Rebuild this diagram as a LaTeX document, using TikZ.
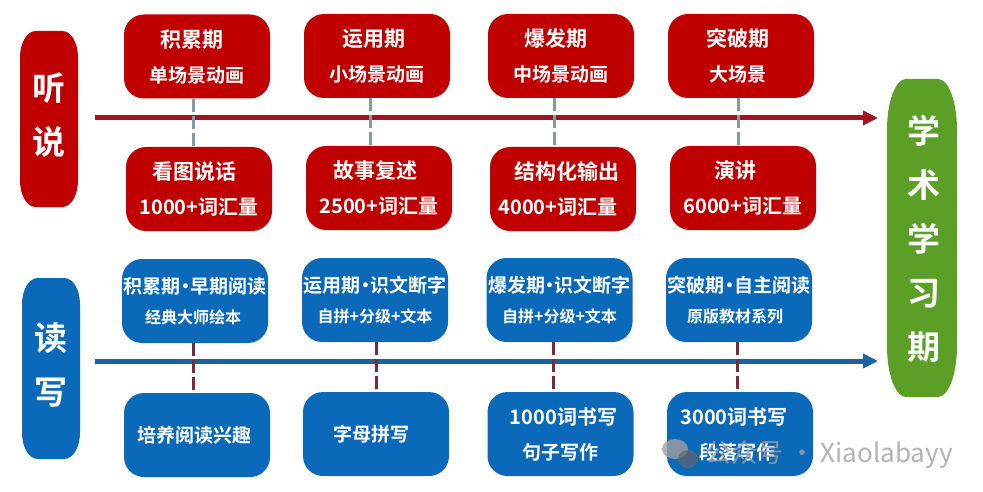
\documentclass[tikz,border=0pt]{standalone}
\usepackage{fontspec}
\usepackage{xcolor}
\usetikzlibrary{arrows.meta,positioning,calc}
\setmainfont{Noto Sans CJK SC}[BoldFont={Noto Sans CJK SC Bold}]
\definecolor{listenred}{HTML}{C00000}
\definecolor{shaftred}{HTML}{A01522}
\definecolor{dashgray}{HTML}{7F9CA3}
\definecolor{readblue}{HTML}{0B69B9}
\definecolor{shaftblue}{HTML}{1C62A3}
\definecolor{dashmaroon}{HTML}{772B42}
\definecolor{academic}{HTML}{5C9F26}
\definecolor{markgray}{HTML}{A0A0A0}
\newcommand{\subline}[1]{{\fontsize{16}{16}\selectfont #1}}
\newcommand{\midline}[1]{{\fontsize{19}{19}\selectfont #1}}
\newcommand{\wideline}[1]{{\fontsize{20}{20}\selectfont #1}}
\newcommand{\tightdot}{\kern-.26em·\kern-.26em}

\begin{document}
\begin{tikzpicture}[
  x=1pt, y=-1pt,
  font=\bfseries,
  redbox/.style={rounded corners=20pt, fill=listenred, text=white, align=center, inner sep=0pt, minimum width=146pt, minimum height=84pt, font=\bfseries\fontsize{21}{35}\selectfont},
  bluebox/.style={redbox, fill=readblue},
  readbox/.style={bluebox, font=\bfseries\fontsize{19}{30}\selectfont},
  sidetext/.style={text=white, align=center, inner sep=0pt, font=\bfseries\fontsize{33}{54}\selectfont},
  redarrow/.style={-{Triangle[length=15pt,width=14pt,fill=listenred]}, draw=shaftred, line width=5pt},
  bluearrow/.style={-{Triangle[length=15pt,width=14pt,fill=readblue]}, draw=shaftblue, line width=5pt},
  graydash/.style={draw=dashgray, line width=3pt, dash pattern=on 13pt off 4pt},
  maroondash/.style={draw=dashmaroon, line width=3pt, dash pattern=on 13pt off 4pt}
]
\useasboundingbox (0,0) rectangle (983,492);
% side bars
\fill[listenred] (20,58) .. controls (20,42) and (27,31) .. (36,31) -- (62,31) .. controls (71,31) and (78,42) .. (78,58) -- (78,180) .. controls (78,196) and (71,207) .. (62,207) -- (36,207) .. controls (27,207) and (20,196) .. (20,180) -- cycle;
\fill[readblue] (22,305) .. controls (22,289) and (29,278) .. (38,278) -- (64,278) .. controls (73,278) and (80,289) .. (80,305) -- (80,432) .. controls (80,448) and (73,459) .. (64,459) -- (38,459) .. controls (29,459) and (22,448) .. (22,432) -- cycle;
\fill[academic] (887,130) .. controls (887,100) and (896,79) .. (906,79) -- (938,79) .. controls (948,79) and (957,100) .. (957,130) -- (957,346) .. controls (957,376) and (948,397) .. (938,397) -- (906,397) .. controls (896,397) and (887,376) .. (887,346) -- cycle;
\node[sidetext] (listen) at (49,115) {听\\说};
\node[sidetext] (read) at (51,365) {读\\写};
\node[sidetext] (academy) at (924,239) {学\\术\\学\\习\\期};
% timelines
\coordinate (redstart) at (95,118);
\coordinate (redend) at (878,118);
\coordinate (bluestart) at (95,361);
\coordinate (blueend) at (878,361);
\draw[redarrow] (redstart) -- (redend);
\draw[bluearrow] (bluestart) -- (blueend);
% listening and speaking
\node[redbox] (a1) at (197,56.5) {积累期\hspace*{10pt}\\\midline{单场景动画}};
\node[redbox] (a2) at (377,56) {运用期\hspace*{6pt}\\\midline{小场景动画}};
\node[redbox] (a3) at (561,56) {爆发期\hspace*{10pt}\\\midline{中场景动画}};
\node[redbox] (a4) at (741,56) {突破期\hspace*{6pt}\\\midline{大场景}\hspace*{6pt}};
\node[redbox] (b1) at (199,189) {看图说话\hspace*{10pt}\\\wideline{1000+词汇量}};
\node[redbox] (b2) at (379,188) {故事复述\hspace*{8pt}\\\wideline{2500+词汇量}};
\node[redbox] (b3) at (563,189) {\hspace*{8pt}结构化输出\\\wideline{4000+词汇量}\hspace*{10pt}};
\node[redbox] (b4) at (743,188) {演讲\hspace*{16pt}\\\wideline{6000+词汇量}};
\draw[graydash] ([xshift=-4pt]a1.south) -- ([xshift=-6pt]b1.north);
\draw[graydash] ([xshift=-7pt]a2.south) -- ([xshift=-9pt]b2.north);
\draw[graydash] ([xshift=-7pt]a3.south) -- ([xshift=-9pt]b3.north);
\draw[graydash] ([xshift=-3pt]a4.south) -- ([xshift=-5pt]b4.north);
% reading and writing
\node[readbox] (c1) at (195,301) {积累期\tightdot 早期阅读\\\subline{经典大师绘本}\hspace*{4pt}};
\node[readbox] (c2) at (375,300) {运用期\tightdot 识文断字\\\subline{自拼+分级+文本}};
\node[readbox] (c3) at (559.5,300) {爆发期\tightdot 识文断字\\\subline{自拼+分级+文本}};
\node[readbox] (c4) at (739,300) {突破期\tightdot 自主阅读\\\subline{原版教材系列}\hspace*{8pt}};
\node[bluebox] (d1) at (197,435) {\midline{培养阅读兴趣}\hspace*{6pt}};
\node[bluebox] (d2) at (376,434) {\midline{字母拼写}\hspace*{10pt}};
\node[bluebox] (d3) at (560.5,434) {\wideline{\hspace*{6pt}1000词书写}\\\midline{句子写作}};
\node[bluebox] (d4) at (740,434) {\wideline{3000词书写}\hspace*{12pt}\\\midline{段落写作}\hspace*{6pt}};
\draw[maroondash] ([xshift=-2pt]c1.south) -- ([xshift=-4pt]d1.north);
\draw[maroondash] ([xshift=1pt]c2.south) -- (d2.north);
\draw[maroondash] ([xshift=-6.5pt]c3.south) -- ([xshift=-7.5pt]d3.north);
\draw[maroondash] ([xshift=-2pt]c4.south) -- ([xshift=-3pt]d4.north);
% watermark
\fill[markgray, opacity=0.8] (675,449) ellipse [x radius=13, y radius=10];
\fill[black!60, opacity=0.7] (688,459) ellipse [x radius=10, y radius=9];
\node[anchor=west, text=markgray, opacity=0.8, inner sep=0pt, font=\fontsize{26}{26}\selectfont] (mark) at (705,455) {公众号 · Xiaolabayy};
\end{tikzpicture}
\end{document}
